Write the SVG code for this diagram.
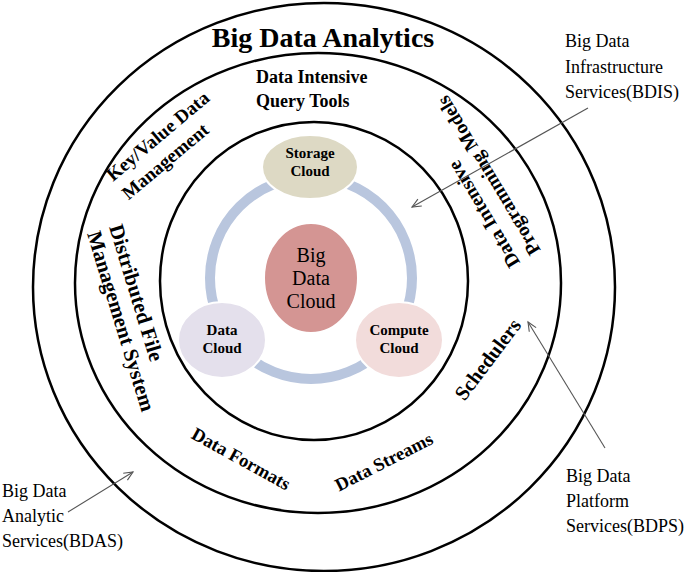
<svg xmlns="http://www.w3.org/2000/svg" width="685" height="572" viewBox="0 0 685 572">
<style>
.ring{fill:none;stroke:#000;stroke-width:2.5}
.b{font-family:"Liberation Serif","Times New Roman",serif;font-weight:bold;fill:#000}
.r{font-family:"Liberation Serif","Times New Roman",serif;fill:#000}
.cl{stroke:#fff;stroke-width:2}
.arr{fill:none;stroke:#555;stroke-width:1.1}
</style>
<defs>
<marker id="ah" markerWidth="12" markerHeight="12" refX="10" refY="5" orient="auto" markerUnits="userSpaceOnUse">
<path d="M1,1 L10,5 L1,9" fill="none" stroke="#555" stroke-width="1.1"/>
</marker>
</defs>
<rect width="685" height="572" fill="#fff"/>
<g id="layer-bdas"><ellipse class="ring" cx="324" cy="287" rx="291" ry="284"/></g>
<g id="layer-bdps"><ellipse class="ring" cx="318" cy="283" rx="243" ry="230"/></g>
<g id="layer-bdis"><ellipse class="ring" cx="314" cy="281" rx="154" ry="159"/></g>
<g id="cycle"><circle cx="311" cy="278" r="101" fill="none" stroke="#b9c6de" stroke-width="10"/></g>
<g id="storage-cloud">
<ellipse class="cl" cx="310" cy="167" rx="48" ry="32" fill="#ddd9c4"/>
<text class="b" x="310" y="158" font-size="15" text-anchor="middle">Storage</text>
<text class="b" x="310" y="176" font-size="15" text-anchor="middle">Cloud</text>
</g>
<g id="big-data-cloud">
<ellipse class="cl" cx="311" cy="278" rx="47" ry="55" fill="#d49593"/>
<text class="r" x="311" y="262" font-size="20" text-anchor="middle" fill="#222">Big</text>
<text class="r" x="311" y="285" font-size="20" text-anchor="middle" fill="#222">Data</text>
<text class="r" x="311" y="308" font-size="20" text-anchor="middle" fill="#222">Cloud</text>
</g>
<g id="data-cloud">
<ellipse class="cl" cx="222" cy="340" rx="44" ry="38" fill="#e4e0ec"/>
<text class="b" x="222" y="335" font-size="15" text-anchor="middle">Data</text>
<text class="b" x="222" y="353" font-size="15" text-anchor="middle">Cloud</text>
</g>
<g id="compute-cloud">
<ellipse class="cl" cx="399" cy="340" rx="44" ry="38" fill="#f2dcdb"/>
<text class="b" x="399" y="335" font-size="15" text-anchor="middle">Compute</text>
<text class="b" x="399" y="353" font-size="15" text-anchor="middle">Cloud</text>
</g>
<g id="title"><text class="b" x="323" y="47" font-size="28" text-anchor="middle">Big Data Analytics</text></g>
<g id="query-tools">
<text class="b" x="256" y="83" font-size="18">Data Intensive</text>
<text class="b" x="256" y="107" font-size="18">Query Tools</text>
</g>
<g id="key-value" transform="translate(113,182) rotate(-40)">
<text class="b" x="0" y="0" font-size="19">Key/Value Data</text>
<text class="b" x="0" y="24" font-size="19">Management</text>
</g>
<g id="dfs" transform="translate(109,227) rotate(73)">
<text class="b" x="0" y="0" font-size="21">Distributed File</text>
<text class="b" x="0" y="23" font-size="21">Management System</text>
</g>
<g id="prog-models" transform="translate(520.5,262.7) rotate(-121)">
<text class="b" x="0" y="0" font-size="19.5">Data Intensive</text>
<text class="b" x="0" y="24" font-size="19.5">Programming Models</text>
</g>
<g id="data-formats" transform="translate(241,459) rotate(29)"><text class="b" x="0" y="6" font-size="18.5" text-anchor="middle">Data Formats</text></g>
<g id="data-streams" transform="translate(384,462) rotate(-27)"><text class="b" x="0" y="6" font-size="18.5" text-anchor="middle">Data Streams</text></g>
<g id="schedulers" transform="translate(488.5,360) rotate(-53)"><text class="b" x="0" y="6" font-size="20.5" text-anchor="middle">Schedulers</text></g>
<g id="label-bdis">
<text class="r" x="565" y="47" font-size="18">Big Data</text>
<text class="r" x="565" y="73" font-size="18">Infrastructure</text>
<text class="r" x="565" y="98" font-size="18">Services(BDIS)</text>
</g>
<g id="label-bdps">
<text class="r" x="566" y="482" font-size="18">Big Data</text>
<text class="r" x="566" y="507" font-size="18">Platform</text>
<text class="r" x="566" y="532" font-size="18">Services(BDPS)</text>
</g>
<g id="label-bdas">
<text class="r" x="2" y="497" font-size="18">Big Data</text>
<text class="r" x="2" y="522" font-size="18">Analytic</text>
<text class="r" x="2" y="547" font-size="18">Services(BDAS)</text>
</g>
<g id="connectors">
<line class="arr" x1="588" y1="108" x2="412" y2="207" marker-end="url(#ah)"/>
<line class="arr" x1="605" y1="448" x2="528" y2="322" marker-end="url(#ah)"/>
<line class="arr" x1="68" y1="512" x2="133" y2="472" marker-end="url(#ah)"/>
</g>
</svg>
